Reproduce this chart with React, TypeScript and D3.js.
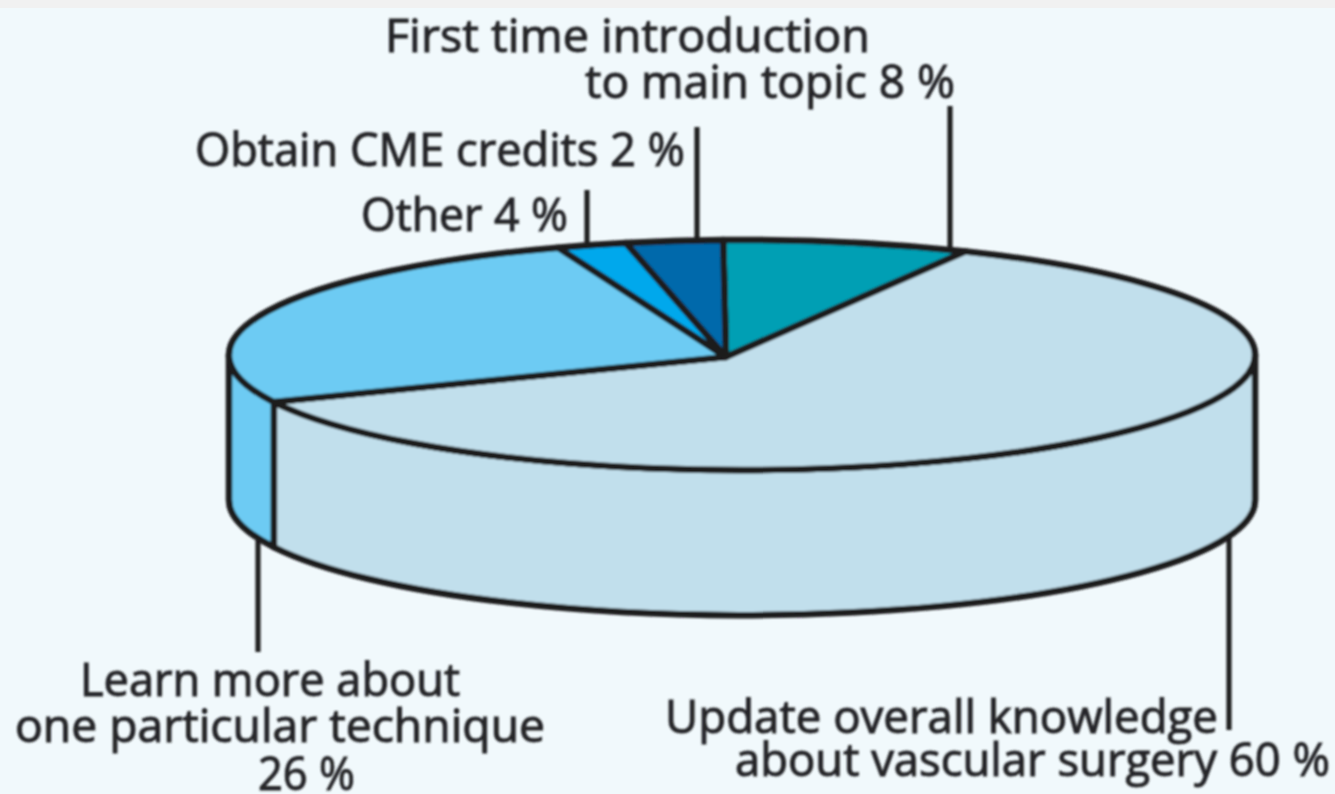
import React from "react";
import * as d3 from "d3";

// Data
const categories = [
  "First time introduction to main topic",
  "Update overall knowledge about vascular surgery",
  "Learn more about one particular technique",
  "Other",
  "Obtain CME credits",
];
const statedPercent = [8, 60, 26, 4, 2];
// shares of the circle as they are actually drawn in the picture
const drawnShare = [7.75, 61.1, 25.86, 2.2, 3.05];
const sliceColors = ["#009fb4", "#c1dfec", "#6dcbf3", "#00a8ec", "#0069ab"];

const W = 1335;
const H = 794;
const INK = "#1c1a1c";
const TEXT = "#252527";
const BG = "#f1f9fc";

// projection of the tilted disc
const cx = 742;
const cy = 355;
const rx = 513;
const ry = 115;
const depth = 145;
const apex: [number, number] = [726, 357];
const startDeg = -2.1;

const sx = d3.scaleLinear().domain([-1, 1]).range([cx - rx, cx + rx]);
const sy = d3.scaleLinear().domain([-1, 1]).range([cy - ry, cy + ry]);
const pt = (a: number, dy = 0): [number, number] => [sx(Math.sin(a)), sy(-Math.cos(a)) + dy];

const pie = d3
  .pie<number>()
  .sort(null)
  .startAngle((startDeg * Math.PI) / 180)
  .endAngle(((startDeg + 360) * Math.PI) / 180);
const arcs = pie(drawnShare);

function topPath(a0: number, a1: number) {
  const p0 = pt(a0);
  const p1 = pt(a1);
  const large = a1 - a0 > Math.PI ? 1 : 0;
  return `M${apex[0]},${apex[1]}L${p0[0]},${p0[1]}A${rx},${ry} 0 ${large} 1 ${p1[0]},${p1[1]}Z`;
}
function sidePath(a0: number, a1: number) {
  const p0 = pt(a0);
  const p1 = pt(a1);
  const q0 = pt(a0, depth);
  const q1 = pt(a1, depth);
  return `M${p0[0]},${p0[1]}A${rx},${ry} 0 0 1 ${p1[0]},${p1[1]}L${q1[0]},${q1[1]}A${rx},${ry} 0 0 0 ${q0[0]},${q0[1]}Z`;
}

const rightEdge = Math.PI / 2;
const leftEdge = (3 * Math.PI) / 2;

const labelLines = [
  { t: "First time introduction", x: 385, w: 485, y: 52 },
  { t: `to main topic ${statedPercent[0]} %`, x: 585, w: 370, y: 98 },
  { t: `Obtain CME credits ${statedPercent[4]} %`, x: 195, w: 490, y: 166 },
  { t: `Other ${statedPercent[3]} %`, x: 361, w: 207, y: 231 },
  { t: "Learn more about", x: 80, w: 380, y: 696 },
  { t: "one particular technique", x: 15, w: 530, y: 742 },
  { t: `${statedPercent[2]} %`, x: 258, w: 97, y: 790 },
  { t: "Update overall knowledge", x: 665, w: 553, y: 733 },
  { t: `about vascular surgery ${statedPercent[1]} %`, x: 735, w: 595, y: 776 },
];
const leaders = [
  { x: 950, y1: 106, y2: 250 },
  { x: 697, y1: 127, y2: 240 },
  { x: 587, y1: 190, y2: 245 },
  { x: 258, y1: 540, y2: 652 },
  { x: 1229, y1: 535, y2: 730 },
];

export default function App() {
  return (
    <svg
      width={W}
      height={H}
      viewBox={`0 0 ${W} ${H}`}
      style={{ position: "absolute", left: 0, top: 0, display: "block" }}
      role="img"
      aria-label={categories.join(", ")}
    >
      <defs>
        <filter id="soft" x="-5%" y="-5%" width="110%" height="110%">
          <feGaussianBlur stdDeviation="0.9" />
        </filter>
      </defs>
      <rect width={W} height={H} fill={BG} />
      <rect width={W} height={8} fill="#f1f1f1" />

      <g stroke={INK} strokeLinejoin="round" filter="url(#soft)">
        {leaders.map((l, i) => (
          <line key={i} x1={l.x} x2={l.x} y1={l.y1} y2={l.y2} strokeWidth={5} />
        ))}
        {/* side wall */}
        <path d={sidePath(rightEdge, arcs[1].endAngle)} fill={sliceColors[1]} strokeWidth={6.5} />
        <path d={sidePath(arcs[1].endAngle, leftEdge)} fill={sliceColors[2]} strokeWidth={6.5} />
        {/* top face */}
        {arcs.map((a, i) => (
          <path key={i} d={topPath(a.startAngle, a.endAngle)} fill={sliceColors[i]} strokeWidth={6.5} />
        ))}
      </g>

      <g
        fill={TEXT}
        stroke={TEXT}
        strokeWidth={1}
        fontFamily="'Open Sans', 'Noto Sans', sans-serif"
        fontSize={46}
        filter="url(#soft)"
      >
        {labelLines.map((l, i) => (
          <text key={i} x={l.x} y={l.y} textLength={l.w} lengthAdjust="spacingAndGlyphs">
            {l.t}
          </text>
        ))}
      </g>
    </svg>
  );
}
